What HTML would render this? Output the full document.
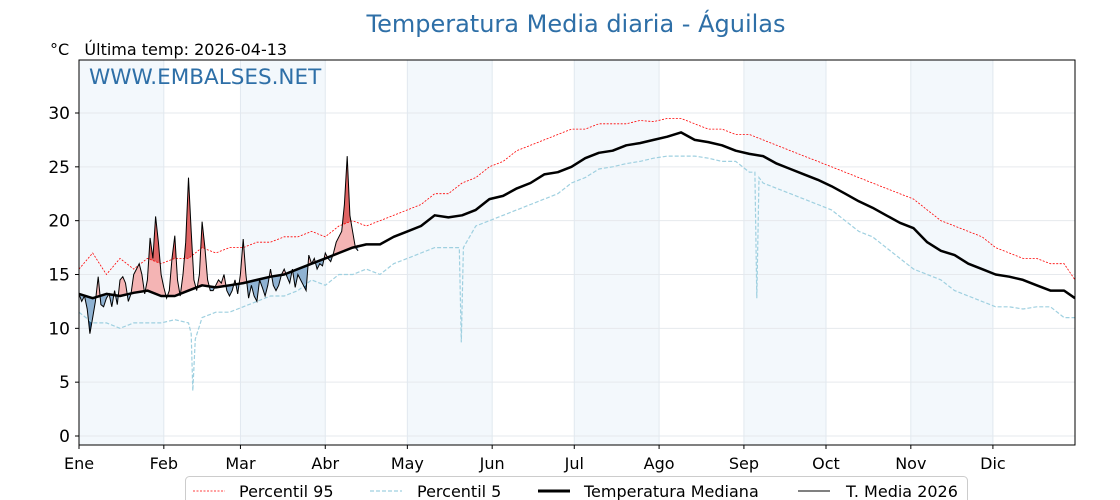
<!DOCTYPE html>
<html><head><meta charset="utf-8"><style>
body{margin:0;background:#fff;}
svg{display:block;font-family:"DejaVu Sans","Liberation Sans",sans-serif;}
</style></head><body>
<svg id="chart" width="1120" height="500">
<defs>
<clipPath id="plotclip"><rect x="79" y="60" width="996" height="385"/></clipPath>
<clipPath id="aboveMed"><path id="aboveMedPath"/></clipPath>
<clipPath id="belowMed"><path id="belowMedPath"/></clipPath>
<clipPath id="aboveP95"><path id="aboveP95Path"/></clipPath>
<clipPath id="belowP5"><path id="belowP5Path"/></clipPath>
</defs>
<g id="bands"></g>
<g id="grid"></g>
<text x="576" y="32" text-anchor="middle" font-size="24" fill="#2e6fa7">Temperatura Media diaria - Águilas</text>
<text x="50" y="55" font-size="16" fill="#000" xml:space="preserve">°C   Última temp: 2026-04-13</text>
<g id="series" clip-path="url(#plotclip)"></g>
<rect x="79" y="60" width="996" height="385" fill="none" stroke="#000" stroke-width="1"/>
<text x="89" y="84" font-size="21.5" fill="#2e6fa7">WWW.EMBALSES.NET</text>
<g id="axes"></g>
<g>
<rect x="185.5" y="476.5" width="782" height="30" rx="4" fill="#fff" stroke="#ccc"/>
<line x1="193" y1="491" x2="225" y2="491" stroke="red" stroke-width="0.8" stroke-dasharray="2,1.5"/>
<text x="239" y="497" font-size="16">Percentil 95</text>
<line x1="370" y1="491" x2="402" y2="491" stroke="#9fd0e0" stroke-width="1.2" stroke-dasharray="4,2"/>
<text x="417" y="497" font-size="16">Percentil 5</text>
<line x1="538" y1="491" x2="570" y2="491" stroke="#000" stroke-width="3"/>
<text x="584" y="497" font-size="16">Temperatura Mediana</text>
<line x1="798" y1="491" x2="830" y2="491" stroke="#000" stroke-width="1"/>
<text x="846" y="497" font-size="16">T. Media 2026</text>
</g>
</svg>
<script>
const monthLabels=["Ene","Feb","Mar","Abr","May","Jun","Jul","Ago","Sep","Oct","Nov","Dic"];
const monthStartDays=[0,31,59,90,120,151,181,212,243,273,304,334];
const yTicks=[0,5,10,15,20,25,30];
const medDays=[0,5,10,15,20,25,30,35,40,45,50,55,60,65,70,75,80,85,90,95,100,105,110,115,120,125,130,135,140,145,150,155,160,165,170,175,180,185,190,195,200,205,210,215,220,225,230,235,240,245,250,255,260,265,270,275,280,285,290,295,300,305,310,315,320,325,330,335,340,345,350,355,360,364];
const medVals=[13.2,12.8,13.2,13.0,13.3,13.5,13.0,13.0,13.5,14.0,13.8,14.0,14.2,14.5,14.8,15.0,15.5,16.0,16.5,17.0,17.5,17.8,17.8,18.5,19.0,19.5,20.5,20.3,20.5,21.0,22.0,22.3,23.0,23.5,24.3,24.5,25.0,25.8,26.3,26.5,27.0,27.2,27.5,27.8,28.2,27.5,27.3,27.0,26.5,26.2,26.0,25.3,24.8,24.3,23.8,23.2,22.5,21.8,21.2,20.5,19.8,19.3,18.0,17.2,16.8,16.0,15.5,15.0,14.8,14.5,14.0,13.5,13.5,12.8];
const p95Vals=[15.5,17.0,15.0,16.5,15.5,16.5,16.0,16.5,16.5,17.5,17.0,17.5,17.5,18.0,18.0,18.5,18.5,19.0,18.5,19.5,20.0,19.5,20.0,20.5,21.0,21.5,22.5,22.5,23.5,24.0,25.0,25.5,26.5,27.0,27.5,28.0,28.5,28.5,29.0,29.0,29.0,29.3,29.2,29.5,29.5,29.0,28.5,28.5,28.0,28.0,27.5,27.0,26.5,26.0,25.5,25.0,24.5,24.0,23.5,23.0,22.5,22.0,21.0,20.0,19.5,19.0,18.5,17.5,17.0,16.5,16.5,16.0,16.0,14.5];
const p5Days=[0,5,10,15,20,25,30,35,40,41,41.6,42.5,45,50,55,60,65,70,75,80,85,90,95,100,105,110,115,120,125,130,135,139,139.7,140.5,145,150,155,160,165,170,175,180,185,190,195,200,205,210,215,220,225,230,235,240,245,247,247.7,248.5,250,255,260,265,270,275,280,285,290,295,300,305,310,315,320,325,330,335,340,345,350,355,360,364];
const p5Vals=[11.5,10.5,10.5,10.0,10.5,10.5,10.5,10.8,10.5,9.5,4.2,9.0,11.0,11.5,11.5,12.0,12.5,13.0,13.0,13.5,14.5,14.0,15.0,15.0,15.5,15.0,16.0,16.5,17.0,17.5,17.5,17.5,8.7,17.5,19.5,20.0,20.5,21.0,21.5,22.0,22.5,23.5,24.0,24.8,25.0,25.3,25.5,25.8,26.0,26.0,26.0,25.8,25.5,25.5,24.5,24.5,12.8,24.0,23.5,23.0,22.5,22.0,21.5,21.0,20.0,19.0,18.5,17.5,16.5,15.5,15.0,14.5,13.5,13.0,12.5,12.0,12.0,11.8,12.0,12.0,11.0,11.0];
const cur2026=[13.2,12.5,13.0,11.8,9.5,11.0,12.5,14.8,12.2,12.0,
12.8,13.2,12.0,13.5,12.2,14.5,14.8,14.2,12.5,13.2,
15.0,15.5,16.0,15.0,13.2,14.5,18.4,16.5,20.4,18.0,
15.0,13.8,12.8,13.5,16.5,18.6,14.5,13.0,15.0,18.0,
24.0,19.0,14.5,13.5,15.0,19.9,17.5,14.5,13.5,13.5,
14.0,14.5,14.2,15.0,13.5,13.0,13.5,14.5,13.2,15.0,
18.3,15.0,12.8,14.0,13.0,12.5,14.5,13.8,13.0,14.0,
15.5,14.0,13.5,14.0,15.0,15.5,14.8,14.2,15.5,13.8,
15.0,14.5,14.0,13.5,16.8,16.0,16.5,15.5,16.0,15.8,
17.0,16.5,16.2,17.0,18.0,18.5,19.0,21.5,26.0,20.5,
19.0,17.5,17.2];

const NS="http://www.w3.org/2000/svg";
const X0=79,X1=1075,PX=(X1-X0)/364;
function xs(d){return X0+d*PX;}
function ys(v){return 436-v*(323/30);}
function mk(tag,attrs,parent){const e=document.createElementNS(NS,tag);for(const k in attrs)e.setAttribute(k,attrs[k]);parent.appendChild(e);return e;}
function pathOf(days,vals){return days.map((d,i)=>(i?"L":"M")+xs(d).toFixed(1)+","+ys(vals[i]).toFixed(1)).join("");}

const bands=document.getElementById("bands"),grid=document.getElementById("grid"),axes=document.getElementById("axes"),series=document.getElementById("series");
const monthEnds=monthStartDays.slice(1).concat([365]);
for(let i=0;i<12;i+=2){
 const b=mk("rect",{x:xs(monthStartDays[i]),y:60,width:xs(monthEnds[i])-xs(monthStartDays[i]),height:385,fill:"#f3f8fc"},bands);
 
 
}
yTicks.forEach(t=>{
 const g=mk("line",{x1:79,x2:1075,y1:ys(t),y2:ys(t),stroke:"#e6e9ed","stroke-width":1},grid);
 
 
 mk("line",{x1:75,x2:79,y1:ys(t),y2:ys(t),stroke:"#000"},axes);
 const l=mk("text",{x:70,y:ys(t)+6,"text-anchor":"end","font-size":"17"},axes);l.textContent=t;
 
 
});
monthStartDays.forEach((d,i)=>{
 const g=mk("line",{x1:xs(d),x2:xs(d),y1:60,y2:445,stroke:"#e1e8ef","stroke-width":1},grid);
 
 
 mk("line",{x1:xs(d),x2:xs(d),y1:445,y2:449,stroke:"#000"},axes);
 const l=mk("text",{x:xs(d),y:469,"text-anchor":"middle","font-size":"16"},axes);l.textContent=monthLabels[i];
 
 
});

const medLine=pathOf(medDays,medVals);
document.getElementById("aboveMedPath").setAttribute("d",medLine+"L1075,0L79,0Z");
document.getElementById("belowMedPath").setAttribute("d",medLine+"L1075,500L79,500Z");
document.getElementById("aboveP95Path").setAttribute("d",pathOf(medDays,p95Vals)+"L1075,0L79,0Z");
document.getElementById("belowP5Path").setAttribute("d",pathOf(p5Days,p5Vals)+"L1075,500L79,500Z");

const curDays=cur2026.map((_,i)=>i);
const last=cur2026.length-1;
const medSub=[];medDays.forEach((d,i)=>{if(d<=last+5)medSub.push([d,medVals[i]]);});
let area=pathOf(curDays,cur2026);
for(let i=medSub.length-1;i>=0;i--){area+="L"+xs(Math.min(medSub[i][0],last)).toFixed(1)+","+ys(medSub[i][1]).toFixed(1);}
area+="Z";
const a1=mk("path",{d:area,fill:"#f4b4b4","clip-path":"url(#aboveMed)"},series);


const a2=mk("path",{d:area,fill:"#8fb2d2","clip-path":"url(#belowMed)"},series);


const g3=mk("g",{"clip-path":"url(#aboveP95)"},series);
const a3=mk("path",{d:area,fill:"#e06464","clip-path":"url(#aboveMed)"},g3);


const g4=mk("g",{"clip-path":"url(#belowP5)"},series);
const a4=mk("path",{d:area,fill:"#2d5f8f","clip-path":"url(#belowMed)"},g4);



const p95=mk("path",{d:pathOf(medDays,p95Vals),fill:"none",stroke:"red","stroke-width":0.8,"stroke-dasharray":"2,1.5"},series);


const p5=mk("path",{d:pathOf(p5Days,p5Vals),fill:"none",stroke:"#9fd0e0","stroke-width":1.2,"stroke-dasharray":"4,2"},series);


const med=mk("path",{d:medLine,fill:"none",stroke:"#000","stroke-width":2.5,"stroke-linejoin":"round"},series);


const cur=mk("path",{d:pathOf(curDays,cur2026),fill:"none",stroke:"#000","stroke-width":1},series);


</script>
</body></html>
